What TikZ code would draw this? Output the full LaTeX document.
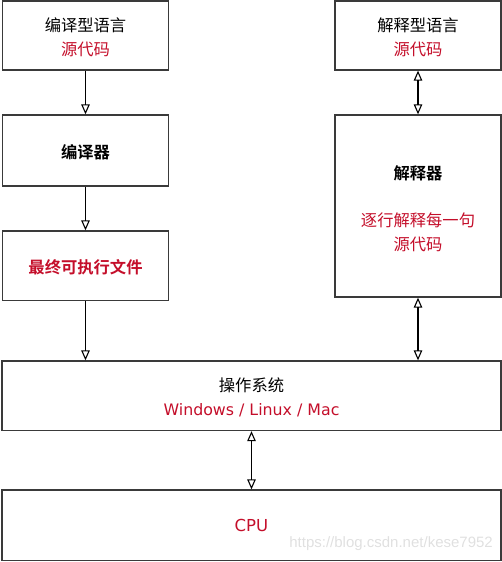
\documentclass[tikz,border=0pt]{standalone}
\usepackage{fontspec}
\setmainfont{Noto Sans CJK SC}[BoldFont={Noto Sans CJK SC Bold}]
\newfontfamily\latinfont{DejaVu Sans}
\newfontfamily\wmfont{Liberation Sans}
\usetikzlibrary{arrows.meta}
\definecolor{redtxt}{HTML}{C40E2A}
\definecolor{boxline}{HTML}{3A3A3A}
\tikzset{
  box/.style={draw=boxline, line width=1.3pt, rectangle, inner sep=0pt},
  lbl/.style={align=center, inner sep=0pt, yshift=-1.8pt, font=\fontsize{16.3}{24}\selectfont},
  conn/.style={draw=black, line width=1.1pt, -{Triangle[open, length=10pt, width=8.5pt, line width=1.1pt]}},
  dconn/.style={draw=black, line width=1.1pt, {Triangle[open, length=10pt, width=8.5pt, line width=1.1pt]}-{Triangle[open, length=10pt, width=8.5pt, line width=1.1pt]}}
}
\begin{document}
\begin{tikzpicture}[x=1pt,y=-1pt]
\useasboundingbox (0,0) rectangle (502,562);
\node[box, minimum width=166pt, minimum height=69pt,
  label={[lbl]center:{编译型语言\\\textcolor{redtxt}{源代码}}}] (src1) at (85.5,35.5) {};
\node[box, minimum width=166pt, minimum height=71pt,
  label={[lbl]center:{\bfseries 编译器}}] (comp) at (85.5,150.5) {};
\node[box, minimum width=166pt, minimum height=69.5pt,
  label={[lbl]center:{\bfseries\textcolor{redtxt}{最终可执行文件}}}] (exe) at (85.5,265.75) {};
\node[box, minimum width=166pt, minimum height=69pt,
  label={[lbl]center:{解释型语言\\\textcolor{redtxt}{源代码}}}] (src2) at (418,35.5) {};
\node[box, minimum width=166pt, minimum height=182pt,
  label={[lbl, yshift=-0.5pt]center:{\bfseries 解释器\\[23pt]\textcolor{redtxt}{逐行解释每一句}\\\textcolor{redtxt}{源代码}}}] (interp) at (418,206) {};
\node[box, minimum width=499pt, minimum height=69.5pt,
  label={[lbl, yshift=0.6pt]center:{操作系统\\\textcolor{redtxt}{\latinfont\fontsize{15.8}{24}\selectfont Windows / Linux / Mac}}}] (os) at (251.5,395.75) {};
\node[box, minimum width=499pt, minimum height=70.5pt,
  label={[lbl, yshift=1.8pt]center:{\textcolor{redtxt}{\latinfont\fontsize{16.5}{24}\selectfont CPU}}}] (cpu) at (251.5,525.25) {};
\node[font=\wmfont\fontsize{15}{18}\selectfont, text=black!12, anchor=east, inner sep=0pt] (wm) at (493,544)
  {https://blog.csdn.net/kese7952};
\draw[conn] (src1.south) -- (comp.north);
\draw[conn] (comp.south) -- (exe.north);
\draw[conn] (exe.south) -- (exe.south |- os.north);
\draw[dconn] (src2.south) -- (interp.north);
\draw[dconn] (interp.south) -- (interp.south |- os.north);
\draw[dconn] (os.south -| cpu.north) -- (cpu.north);
\end{tikzpicture}
\end{document}
